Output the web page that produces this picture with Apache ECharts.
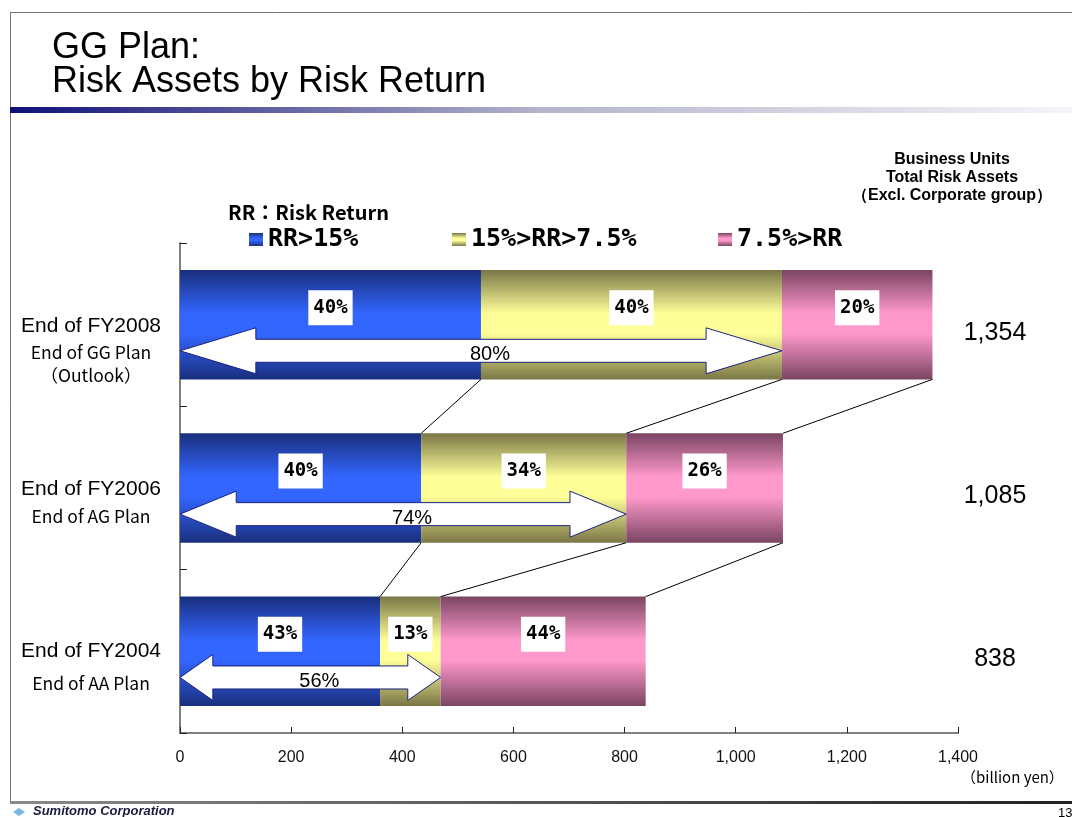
<!DOCTYPE html>
<html>
<head>
<meta charset="utf-8">
<script src="https://cdn.jsdelivr.net/npm/echarts@6/dist/echarts.min.js"></script>
<style>html,body{margin:0;padding:0;background:#fff;}#c{width:1072px;height:817px;}</style>
</head>
<body>
<div id="c"></div>
<script>
// ---- data ----
const categories = ['End of FY2008', 'End of FY2006', 'End of FY2004'];
const subLabels = [['End of GG Plan', '（Outlook）'], ['End of AG Plan'], ['End of AA Plan']];
const seriesNames = ['RR>15%', '15%>RR>7.5%', '7.5%>RR'];
const rrHigh = [541.6, 434, 360];     // billion yen
const rrMid = [541.6, 369, 109];
const rrLow = [270.8, 282, 369];
const pctHigh = [40, 40, 43];
const pctMid = [40, 34, 13];
const pctLow = [20, 26, 44];
const arrowPct = [80, 74, 56];
const totals = [1354, 1085, 838];
const xMin = 0, xMax = 1400, xInterval = 200;

// ---- helpers ----
function grad(dark, bright) {
  return new echarts.graphic.LinearGradient(0, 0, 0, 1, [
    { offset: 0, color: dark },
    { offset: 0.4, color: bright },
    { offset: 0.58, color: bright },
    { offset: 1, color: dark }
  ]);
}
const colors = [grad('#1a2e7c', '#3366ff'), grad('#7a7646', '#ffff99'), grad('#7a4462', '#ff99cc')];
const pcts = [pctHigh, pctMid, pctLow];
const vals = [rrHigh, rrMid, rrLow];

// label layout per category (spacer heights / second line heights)
const spH = [49, 28, 35];
const bH = [23, 25, 35];
const rich = {};
for (let i = 0; i < 3; i++) {
  rich['sp' + i] = { fontSize: 2, lineHeight: spH[i], align: 'center' };
  rich['b' + i] = { fontSize: 17.5, lineHeight: bH[i], fontFamily: 'Noto Sans CJK JP', color: '#000', align: 'center' };
}
rich.a = { fontSize: 21, lineHeight: 29, fontFamily: 'Liberation Sans', color: '#000', align: 'center' };

const barSeries = seriesNames.map((name, s) => ({
  name: name,
  type: 'bar',
  stack: 'total',
  yAxisIndex: 0,
  barCategoryGap: '33%',
  itemStyle: { color: colors[s] },
  data: vals[s],
  label: {
    show: true,
    position: 'inside',
    offset: [0, -17],
    formatter: p => pcts[s][p.dataIndex] + '%',
    backgroundColor: '#fff',
    padding: [8, 5, 8, 5],
    fontSize: 19,
    fontWeight: 'bold',
    fontFamily: 'DejaVu Sans Mono',
    color: '#000'
  }
}));

const arrowData = categories.map((c, i) => [i, rrHigh[i] + rrMid[i], arrowPct[i]]);
const arrowSeries = {
  type: 'custom',
  yAxisIndex: 0,
  z: 4,
  silent: true,
  clip: false,
  encode: { x: 1, y: 0 },
  data: arrowData,
  renderItem: function (params, api) {
    const cat = api.value(0), end = api.value(1), pct = api.value(2);
    const p0 = api.coord([0, cat]);
    const p1 = api.coord([end, cat]);
    const band = api.size([0, 1])[1];
    const y = p0[1] + band * 0.16;
    const x0 = p0[0], x1 = p1[0];
    const head = (x1 - x0) * 0.126;
    const sh = 11.5, hh = 23;
    const pts = [
      [x0, y], [x0 + head, y - hh], [x0 + head, y - sh], [x1 - head, y - sh], [x1 - head, y - hh],
      [x1, y], [x1 - head, y + hh], [x1 - head, y + sh], [x0 + head, y + sh], [x0 + head, y + hh]
    ];
    return {
      type: 'group',
      children: [
        { type: 'polygon', shape: { points: pts }, style: { fill: '#fff', stroke: '#1c2380', lineWidth: 1 } },
        { type: 'text', style: { x: (x0 + x1) / 2 + 9, y: y + 4, text: pct + '%', align: 'center', verticalAlign: 'middle',
          fontSize: 20, fontFamily: 'Liberation Sans', fill: '#000' } }
      ]
    };
  }
};

// connector lines between bars at segment boundaries
const cum = categories.map((c, i) => [rrHigh[i], rrHigh[i] + rrMid[i], rrHigh[i] + rrMid[i] + rrLow[i]]);
const connData = [];
for (let i = 0; i < categories.length - 1; i++) {
  for (let k = 0; k < 3; k++) connData.push([i, i + 1, cum[i][k], cum[i + 1][k]]);
}
const connSeries = {
  type: 'custom',
  yAxisIndex: 0,
  z: 3,
  silent: true,
  clip: false,
  encode: { x: [2, 3], y: [0, 1] },
  data: connData,
  renderItem: function (params, api) {
    const band = api.size([0, 1])[1];
    const bh = band * 0.67 / 2;
    const pu = api.coord([api.value(2), api.value(0)]);
    const pl = api.coord([api.value(3), api.value(1)]);
    return { type: 'line', shape: { x1: pu[0], y1: pu[1] + bh, x2: pl[0], y2: pl[1] - bh },
      style: { stroke: '#000', lineWidth: 1 } };
  }
};

const legendFont = { fontSize: 25, fontWeight: 'bold', fontFamily: 'DejaVu Sans Mono', color: '#000' };
const legendLeft = [244, 447, 713];

const chart = echarts.init(document.getElementById('c'), null, { renderer: 'canvas' });
chart.setOption({
  animation: false,
  backgroundColor: '#fff',
  grid: { left: 180, right: 114, top: 243, bottom: 84 },
  legend: seriesNames.map((n, i) => ({
    data: [n], left: legendLeft[i], top: 222, itemWidth: 14, itemHeight: 13,
    selectedMode: false, textStyle: legendFont, icon: 'rect'
  })),
  xAxis: {
    type: 'value', min: xMin, max: xMax, interval: xInterval,
    axisLine: { show: true, lineStyle: { color: '#808080', width: 2 } },
    axisTick: { show: true, inside: true, length: 6, lineStyle: { color: '#222' } },
    splitLine: { show: false },
    axisLabel: { fontSize: 16, color: '#111', margin: 17, fontFamily: 'Liberation Sans',
      formatter: v => v.toLocaleString('en-US') }
  },
  yAxis: [{
    type: 'category', inverse: true, data: categories,
    axisLine: { show: true, lineStyle: { color: '#808080', width: 2 } },
    axisTick: { show: true, inside: true, length: 7, lineStyle: { color: '#222', width: 1 } },
    axisLabel: {
      align: 'center', margin: 89, rich: rich,
      formatter: (v, i) => '{sp' + i + '| }\n{a|' + v + '}\n' + subLabels[i].map(s => '{b' + i + '|' + s + '}').join('\n')
    }
  }, {
    type: 'category', inverse: true, position: 'right', data: totals.map(t => t.toLocaleString('en-US')),
    axisLine: { show: false }, axisTick: { show: false },
    axisLabel: {
      align: 'center', margin: 37,
      formatter: v => '{sp| }\n{t|' + v + '}',
      rich: {
        sp: { fontSize: 2, lineHeight: 16, align: 'center' },
        t: { fontSize: 25, lineHeight: 28, fontFamily: 'Liberation Sans', color: '#000', align: 'center' }
      }
    }
  }],
  series: barSeries.concat([arrowSeries, connSeries]),
  graphic: [
    { type: 'line', shape: { x1: 10, y1: 12.5, x2: 1072, y2: 12.5 }, style: { stroke: '#777', lineWidth: 1 } },
    { type: 'line', shape: { x1: 10.5, y1: 12, x2: 10.5, y2: 801 }, style: { stroke: '#777', lineWidth: 1 } },
    { type: 'text', left: 52, top: 30, style: { text: 'GG Plan:\nRisk Assets by Risk Return', fontSize: 36, lineHeight: 34,
      fontFamily: 'Liberation Sans', fill: '#000' } },
    { type: 'rect', shape: { x: 10, y: 107, width: 1062, height: 6 },
      style: { fill: new echarts.graphic.LinearGradient(0, 0, 1, 0, [
        { offset: 0, color: '#10107a' }, { offset: 0.5, color: '#b4b4cc' }, { offset: 1, color: '#f4f4f8' }]) } },
    { type: 'text', x: 952, y: 151, style: { text: 'Business Units\nTotal Risk Assets\n（Excl. Corporate group）',
      align: 'center', fontSize: 16, lineHeight: 18, fontWeight: 'bold', fontFamily: 'Liberation Sans', fill: '#000' } },
    { type: 'text', x: 228, y: 202, style: { text: 'RR：Risk Return', fontSize: 20, fontWeight: 'bold',
      fontFamily: 'Noto Sans CJK JP', fill: '#000' } },
    { type: 'text', x: 961, y: 770, style: { text: '（billion yen）', fontSize: 15, fontFamily: 'Noto Sans CJK JP', fill: '#000' } },
    { type: 'rect', shape: { x: 10, y: 801, width: 1062, height: 3 },
      style: { fill: new echarts.graphic.LinearGradient(0, 0, 1, 0, [
        { offset: 0, color: '#8a8a8a' }, { offset: 1, color: '#222' }]) } },
    { type: 'polygon', shape: { points: [[13, 812], [19, 808], [25, 812], [19, 816]] }, style: { fill: '#7ab8e0' } },
    { type: 'text', x: 33, y: 805, style: { text: 'Sumitomo Corporation', fontSize: 13, fontStyle: 'italic', fontWeight: 'bold',
      fontFamily: 'Liberation Sans', fill: '#1a1a40' } },
    { type: 'text', x: 1058, y: 807, style: { text: '13', fontSize: 13, fontFamily: 'Liberation Sans', fill: '#000' } }
  ]
});
</script>
</body>
</html>
